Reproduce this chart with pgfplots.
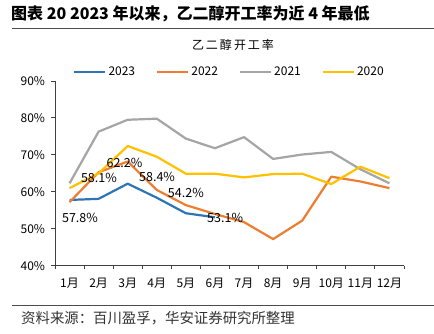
\documentclass[border=0pt]{standalone}
\usepackage{fontspec}
\setmainfont{Noto Sans CJK SC}
\usepackage{pgfplots}
\pgfplotsset{compat=1.18}
\definecolor{c23}{HTML}{2E75B6}
\definecolor{c22}{HTML}{ED7D31}
\definecolor{c21}{HTML}{A5A5A5}
\definecolor{c20}{HTML}{FFC000}
\begin{document}
\begin{tikzpicture}[x=1pt,y=1pt]
\useasboundingbox (0,0) rectangle (434,334);
\node[anchor=west,inner sep=0pt,font=\bfseries\fontsize{16}{18}\selectfont] at (11,320) {图表 20 2023 年以来，乙二醇开工率为近 4 年最低};
\draw[line width=0.9pt, black!70] (12,306) -- (434,306);
\node[inner sep=0pt,font=\fontsize{12}{14}\selectfont] at (233,289) {乙\,二\,醇\,开\,工\,率};
\draw[line width=0.9pt, black!70] (12,29) -- (434,29);
\node[anchor=west,inner sep=0pt,font=\fontsize{14.4}{16}\selectfont, black!80] at (21,16) {资料来源：百川盈孚，华安证券研究所整理};
\begin{axis}[at={(55pt,68.3pt)}, anchor=south west, scale only axis,
  width=349pt, height=184.7pt,
  xmin=0.5, xmax=12.5, ymin=40, ymax=90,
  axis lines=left, axis line style={-, line width=0.9pt, black!75},
  xtick={0.5,1.5,...,12.5},
  x tick label as interval,
  xticklabels={1月,2月,3月,4月,5月,6月,7月,8月,9月,10月,11月,12月},
  ytick={40,50,60,70,80,90},
  yticklabels={40\%,50\%,60\%,70\%,80\%,90\%},
  tick align=outside, major tick length=3.5pt,
  tick style={line width=0.9pt, black!75},
  tick label style={font=\fontsize{12}{14}\selectfont},
  yticklabel style={xshift=-3pt},
  xticklabel style={font=\fontsize{12}{14}\selectfont, inner xsep=0pt, yshift=-5pt},
  legend columns=4,
  legend style={draw=none, at={(0.5,1)}, anchor=south, yshift=0pt,
    font=\fontsize{12}{14}\selectfont,
    /tikz/every even column/.append style={column sep=19pt}},
  legend image code/.code={\draw[#1] (0pt,0pt) -- (31pt,0pt);},
  every axis plot/.append style={line width=2.2pt, line join=round},
]
\addplot[c23] coordinates {(1,57.8)(2,58.1)(3,62.2)(4,58.4)(5,54.2)(6,53.1)};
\addlegendentry{2023}
\addplot[c22] coordinates {(1,57.2)(2,65.3)(3,68.2)(4,60.5)(5,56.4)(6,54.0)(7,51.8)(8,47.2)(9,52.2)(10,64.1)(11,62.8)(12,61.0)};
\addlegendentry{2022}
\addplot[c21] coordinates {(1,62.3)(2,76.3)(3,79.5)(4,79.8)(5,74.4)(6,71.8)(7,74.8)(8,68.9)(9,70.1)(10,70.8)(11,66.1)(12,62.3)};
\addlegendentry{2021}
\addplot[c20] coordinates {(1,61.0)(2,65.0)(3,72.4)(4,69.5)(5,64.9)(6,64.9)(7,63.9)(8,64.8)(9,64.9)(10,62.1)(11,66.8)(12,63.7)};
\addlegendentry{2020}
\tikzset{dl/.style={font=\fontsize{12.5}{14}\selectfont, inner sep=0pt}}
\node[dl] at (axis cs:1.36,52.9) {57.8\%};
\node[dl] at (axis cs:2.01,63.8) {58.1\%};
\node[dl] at (axis cs:2.89,67.75) {62.2\%};
\node[dl] at (axis cs:4.01,64.0) {58.4\%};
\node[dl] at (axis cs:5.0,59.8) {54.2\%};
\node[dl] at (axis cs:6.35,52.85) {53.1\%};
\end{axis}
\end{tikzpicture}
\end{document}
